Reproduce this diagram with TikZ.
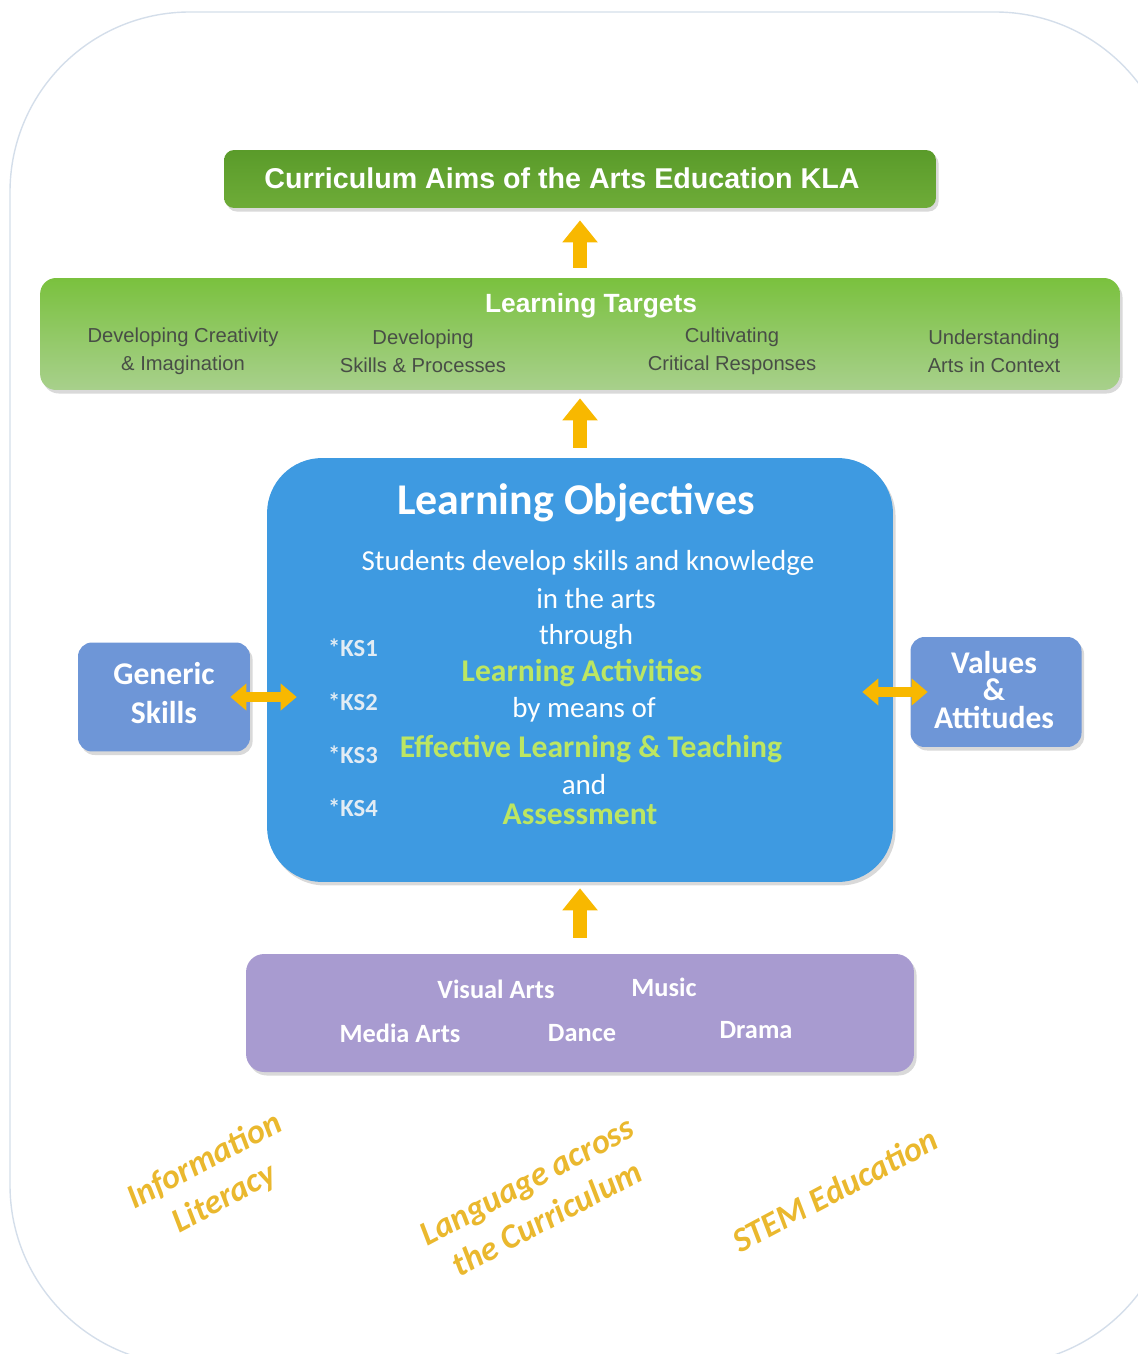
\documentclass[tikz,border=0pt]{standalone}
\usepackage{fontspec}
\setmainfont{Carlito}
\newfontfamily\arialfont{Liberation Sans}
\usetikzlibrary{arrows.meta,shadows}
\definecolor{aimstop}{RGB}{90,155,42}
\definecolor{aimsbottom}{RGB}{110,172,56}
\definecolor{targettop}{RGB}{122,193,62}
\definecolor{targetbottom}{RGB}{168,208,140}
\definecolor{objblue}{RGB}{62,154,225}
\definecolor{sideblue}{RGB}{110,150,215}
\definecolor{artspurple}{RGB}{168,155,208}
\definecolor{arrowyellow}{RGB}{248,184,0}
\definecolor{limegreen}{RGB}{188,230,98}
\definecolor{ksgray}{RGB}{226,236,244}
\definecolor{itemgray}{RGB}{72,78,70}
\definecolor{themegold}{RGB}{234,184,46}
\definecolor{framegray}{RGB}{212,222,234}
\begin{document}
\begin{tikzpicture}[x=0.02cm,y=-0.02cm,
  boxdecorate/.style={inner sep=0pt,
    drop shadow={shadow xshift=1.5pt,shadow yshift=-2pt,opacity=0.3}},
  headdecorate/.style={text=white,font=\arialfont\bfseries\fontsize{16.3}{19}\selectfont},
  itemdecorate/.style={text=itemgray,align=center,font=\arialfont\fontsize{11.5}{16}\selectfont},
  bodydecorate/.style={text=white,font=\fontsize{16.5}{20}\selectfont},
  greendecorate/.style={text=limegreen,font=\bfseries\fontsize{18}{21}\selectfont},
  ksdecorate/.style={text=ksgray,font=\bfseries\fontsize{14}{17}\selectfont},
  sidedecorate/.style={text=white,align=center,font=\bfseries\fontsize{18}{22}\selectfont},
  artsdecorate/.style={text=white,font=\bfseries\fontsize{15}{18}\selectfont},
  themedecorate/.style={text=themegold,align=center,rotate=28,
    font=\bfseries\itshape\fontsize{19.5}{24}\selectfont},
  arrowdecorate/.style={draw=arrowyellow,line width=0.28cm,-{Triangle[width=0.68cm,length=0.44cm]}},
  dblarrowdecorate/.style={draw=arrowyellow,line width=0.2cm,
    {Triangle[width=0.52cm,length=0.32cm]}-{Triangle[width=0.52cm,length=0.32cm]}}]
\useasboundingbox (0,0) rectangle (1137,1354);
%%% frame
\draw[framegray,line width=0.8pt,rounded corners=3.6cm] (10,12) rectangle (1175,1365);
%
%%% boxes
% nodes or boxes
\node (aims) at (580,179) [boxdecorate,rounded corners=0.2cm,top color=aimstop,bottom color=aimsbottom,
  minimum width=14.24cm,minimum height=1.16cm] {};
\node (targets) at (580,334) [boxdecorate,rounded corners=0.32cm,top color=targettop,bottom color=targetbottom,
  minimum width=21.6cm,minimum height=2.24cm] {};
\node (obj) at (580,670) [boxdecorate,rounded corners=1.1cm,fill=objblue,
  minimum width=12.52cm,minimum height=8.48cm] {};
\node (generic) at (164,697) [boxdecorate,rounded corners=0.28cm,fill=sideblue,
  minimum width=3.44cm,minimum height=2.18cm] {};
\node (values) at (996,692) [boxdecorate,rounded corners=0.28cm,fill=sideblue,
  minimum width=3.42cm,minimum height=2.2cm] {};
\node (arts) at (580,1013) [boxdecorate,rounded corners=0.36cm,fill=artspurple,
  minimum width=13.36cm,minimum height=2.36cm] {};
%
%%% texts
\node (aimstitle) at (562,178) [headdecorate] {Curriculum Aims of the Arts Education KLA};
\node (targettitle) at (591,306) [headdecorate,font=\arialfont\bfseries\fontsize{15}{18}\selectfont] {Learning Targets};
\node (creativity) at (183,351) [itemdecorate] {Developing Creativity\\\& Imagination};
\node (skills) at (423,351) [itemdecorate] {Developing\\Skills \& Processes};
\node (critical) at (732,351) [itemdecorate] {Cultivating\\Critical Responses};
\node (context) at (994,351) [itemdecorate] {Understanding\\Arts in Context};
%
\node (objtitle) at (576,503) [bodydecorate,font=\bfseries\fontsize{25}{30}\selectfont] {Learning Objectives};
\node (students) at (588,563) [bodydecorate] {Students develop skills and knowledge};
\node (inarts) at (596,599) [bodydecorate] {in the arts};
\node (through) at (586,637) [bodydecorate] {through};
\node (activities) at (582,673) [greendecorate] {Learning Activities};
\node (bymeans) at (584,710) [bodydecorate] {by means of};
\node (teaching) at (591,749) [greendecorate] {Effective Learning \& Teaching};
\node (and) at (584,785) [bodydecorate] {and};
\node (assessment) at (580,814) [greendecorate] {Assessment};
\node (ks1) at (353,648) [ksdecorate] {*KS1};
\node (ks2) at (353,702) [ksdecorate] {*KS2};
\node (ks3) at (353,755) [ksdecorate] {*KS3};
\node (ks4) at (353,808) [ksdecorate] {*KS4};
%
\node (generictext) at (164,693) [sidedecorate] {Generic\\Skills};
\node (valuestext) at (994,690) [sidedecorate,font=\bfseries\fontsize{18}{15.6}\selectfont] {Values\\\&\\Attitudes};
%
\node (visual) at (496,989) [artsdecorate] {Visual Arts};
\node (music) at (664,987) [artsdecorate] {Music};
\node (media) at (400,1033) [artsdecorate] {Media Arts};
\node (dance) at (582,1033) [artsdecorate] {Dance};
\node (drama) at (756,1030) [artsdecorate] {Drama};
%
\node (literacy) at (215,1180) [themedecorate] {Information\\Literacy};
\node (language) at (537,1200) [themedecorate] {Language across\\the Curriculum};
\node (stem) at (835,1190) [themedecorate] {STEM Education};
%
% edges or arrows
\path
(targets.north) edge[arrowdecorate,shorten <=0.2cm,shorten >=0.24cm] (aims.south)
(obj.north) edge[arrowdecorate,shorten <=0.2cm,shorten >=0.16cm] (targets.south)
(arts.north) edge[arrowdecorate,shorten <=0.32cm,shorten >=0.12cm] (obj.south)
(generic.east) edge[dblarrowdecorate,shorten <=-0.4cm,shorten >=-0.6cm] (generic.east -| obj.west)
(values.west) edge[dblarrowdecorate,shorten <=-0.35cm,shorten >=-0.62cm] (values.west -| obj.east);
\end{tikzpicture}
\end{document}
